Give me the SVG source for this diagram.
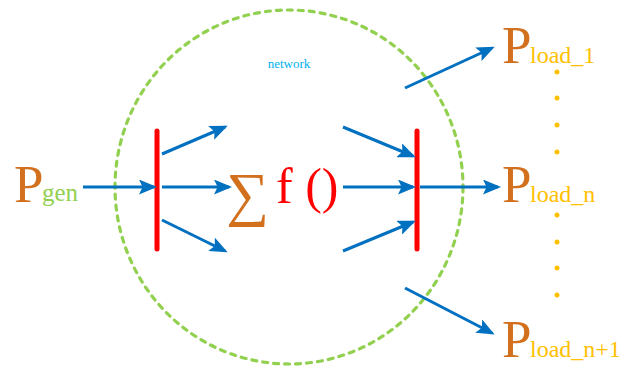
<svg xmlns="http://www.w3.org/2000/svg" width="625" height="369" viewBox="0 0 625 369">
<style>
.ar{stroke:#0070C0;stroke-width:3;fill:none;marker-end:url(#ah)}
.bar{stroke:#FF0000;stroke-width:5;stroke-linecap:round}
.P{font-family:"Liberation Serif",serif;font-size:53px;fill:#D2701E}
.sub{font-family:"Liberation Serif",serif;font-size:24px;fill:#FFC000}
.dot{fill:#FFC000}
</style>
<defs>
<marker id="ah" markerWidth="6" markerHeight="5" refX="5" refY="2.5" orient="auto" markerUnits="strokeWidth">
<path d="M0,0 L6,2.5 L0,5 L1.2,2.5 Z" fill="#0070C0"/>
</marker>
</defs>
<g id="network">
<ellipse cx="289" cy="187" rx="174" ry="177" fill="none" stroke="#92D050" stroke-width="3.2" stroke-dasharray="5,6" stroke-linecap="round"/>
<text x="289" y="68" font-family="Liberation Serif,serif" font-size="13" fill="#00B0F0" text-anchor="middle">network</text>
</g>
<g id="pgen">
<text x="14" y="202" class="P">P</text>
<text x="42" y="201" font-family="Liberation Serif,serif" font-size="25" fill="#92D050">gen</text>
</g>
<g id="leftbar"><line x1="157" y1="131" x2="157" y2="249" class="bar"/></g>
<g id="rightbar"><line x1="417" y1="131" x2="417" y2="249" class="bar"/></g>
<g id="sum">
<text x="226" y="214" font-family="Liberation Serif,serif" font-size="60" fill="#D2701E">∑</text>
<text x="276" y="203" font-family="Liberation Serif,serif" font-size="50" fill="#FF0000">f ()</text>
</g>
<g id="pload1">
<text x="502" y="63" class="P">P</text>
<text x="530" y="63" class="sub">load_1</text>
</g>
<g id="ploadn">
<text x="502" y="202" class="P">P</text>
<text x="530" y="202" class="sub">load_n</text>
</g>
<g id="ploadn1">
<text x="502" y="357" class="P">P</text>
<text x="530" y="357" class="sub">load_n+1</text>
</g>
<g id="dots">
<circle class="dot" cx="557" cy="72" r="2.5"/>
<circle class="dot" cx="557" cy="98" r="2.5"/>
<circle class="dot" cx="557" cy="125" r="2.5"/>
<circle class="dot" cx="557" cy="152" r="2.5"/>
<circle class="dot" cx="557" cy="215" r="2.5"/>
<circle class="dot" cx="557" cy="242" r="2.5"/>
<circle class="dot" cx="557" cy="268" r="2.5"/>
<circle class="dot" cx="557" cy="295" r="2.5"/>
</g>
<g id="connectors">
<line class="ar" x1="83" y1="187" x2="154" y2="187"/>
<line class="ar" x1="162" y1="154" x2="225" y2="127"/>
<line class="ar" x1="162" y1="187" x2="229" y2="187"/>
<line class="ar" x1="162" y1="220" x2="225" y2="251"/>
<line class="ar" x1="343" y1="127" x2="413" y2="156"/>
<line class="ar" x1="343" y1="187" x2="413" y2="187"/>
<line class="ar" x1="343" y1="251" x2="413" y2="222"/>
<line class="ar" x1="420" y1="187" x2="498" y2="187"/>
<line class="ar" x1="405" y1="88" x2="492" y2="48"/>
<line class="ar" x1="405" y1="288" x2="492" y2="333"/>
</g>
</svg>
